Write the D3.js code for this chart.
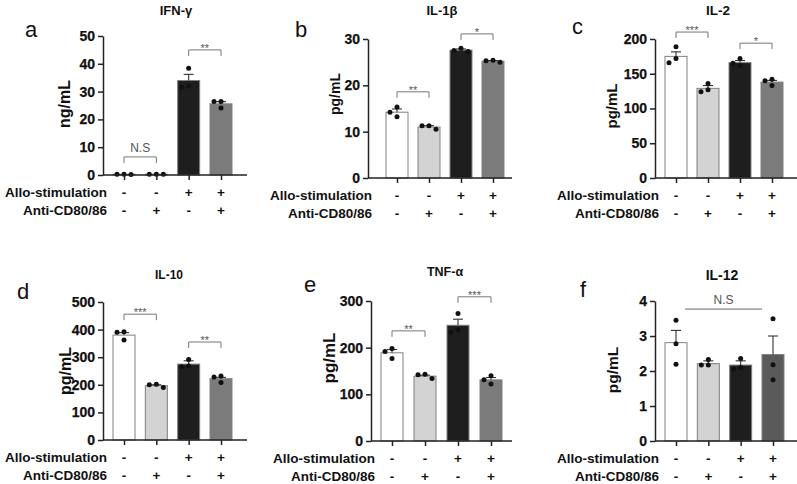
<!DOCTYPE html>
<html>
<head>
<meta charset="utf-8">
<script src="https://cdn.jsdelivr.net/npm/d3@7"></script>
<style>
  body { margin: 0; background: #fff; }
  text { font-family: "Liberation Sans", Arial, sans-serif; }
</style>
</head>
<body>
<div id="chart"></div>
<script>
// groups and the +/- rows under each bar
var groups = ["g1", "g2", "g3", "g4"];
var alloRow = ["-", "-", "+", "+"];
var antiRow = ["-", "+", "-", "+"];

// IFN-γ (ng/mL)
var ifnMean = [0.3, 0.3, 34, 25.6];
var ifnSem = [0, 0, 2.2, 0.8];
var ifnDots = [[0.2, 0.3, 0.3], [0.3, 0.3, 0.3], [38.4, 32, 31.6], [26.4, 26.4, 24.1]];
var ifnTicks = [0, 10, 20, 30, 40, 50];
var ifnMarks = [{ from: 0, to: 1, y: 6.5, text: "N.S" }, { from: 2, to: 3, y: 45, text: "**" }];

// IL-1β (pg/mL)
var il1Mean = [14.2, 11, 27.6, 25.2];
var il1Sem = [0.7, 0.3, 0.25, 0.15];
var il1Dots = [[15.3, 14.2, 13.2], [11.3, 11.3, 10.5], [28, 27.5, 27.3], [25.4, 25.3, 25.0]];
var il1Ticks = [0, 10, 20, 30];
var il1Marks = [{ from: 0, to: 1, y: 18.6, text: "**" }, { from: 2, to: 3, y: 31.1, text: "*" }];

// IL-2 (pg/mL)
var il2Mean = [175, 129, 166, 138];
var il2Sem = [6.5, 4, 3, 2.4];
var il2Dots = [[189, 172, 166], [136, 127, 124], [172, 165, 162], [142, 140, 133]];
var il2Ticks = [0, 50, 100, 150, 200];
var il2Marks = [{ from: 0, to: 1, y: 210, text: "***" }, { from: 2, to: 3, y: 194, text: "*" }];

// IL-10 (pg/mL)
var il10Mean = [380, 197, 275, 222];
var il10Sem = [9, 3, 12, 5];
var il10Dots = [[392, 390, 362], [202, 200, 190], [292, 268, 265], [232, 228, 208]];
var il10Ticks = [0, 100, 200, 300, 400, 500];
var il10Marks = [{ from: 0, to: 1, y: 456, text: "***" }, { from: 2, to: 3, y: 355, text: "**" }];

// TNF-α (pg/mL)
var tnfMean = [189, 139, 248, 131];
var tnfSem = [7, 2, 13, 5];
var tnfDots = [[198, 192, 177], [143, 142, 134], [273, 238, 233], [140, 131, 122]];
var tnfTicks = [0, 100, 200, 300];
var tnfMarks = [{ from: 0, to: 1, y: 236, text: "**" }, { from: 2, to: 3, y: 309, text: "***" }];

// IL-12 (pg/mL)
var il12Mean = [2.81, 2.21, 2.17, 2.47];
var il12Sem = [0.35, 0.08, 0.12, 0.53];
var il12Dots = [[3.45, 2.78, 2.19], [2.33, 2.17, 2.17], [2.36, 2.1, 2.05], [3.49, 2.18, 1.75]];
var il12Ticks = [0, 1, 2, 3, 4];
var il12Marks = [{ from: 0, to: 3, y: 3.77, text: "N.S", line: true }];

var fills = ["#ffffff", "#d3d3d3", "#1e1e1e", "#7b7b7b"];

var panels = [
  { letter: "a", title: "IFN-γ", unit: "ng/mL", mean: ifnMean, sem: ifnSem, dots: ifnDots, ticks: ifnTicks, marks: ifnMarks,
    ax: 103, x1: 124, x2: 221, xEnd: 247, y0: 175, yTop: 36, unitX: 64, unitY: 104, unitSize: 16,
    titleX: 176, titleY: 15, titleSize: 13, letterX: 25, letterY: 37 },
  { letter: "b", title: "IL-1β", unit: "pg/mL", mean: il1Mean, sem: il1Sem, dots: il1Dots, ticks: il1Ticks, marks: il1Marks,
    ax: 368, x1: 397, x2: 493, xEnd: 512, y0: 178, yTop: 39, unitX: 335, unitY: 94, unitSize: 14,
    titleX: 442, titleY: 15, titleSize: 13, letterX: 295, letterY: 37 },
  { letter: "c", title: "IL-2", unit: "pg/mL", mean: il2Mean, sem: il2Sem, dots: il2Dots, ticks: il2Ticks, marks: il2Marks,
    ax: 655, x1: 676, x2: 772, xEnd: 797, y0: 178, yTop: 39, unitX: 611, unitY: 106, unitSize: 15,
    titleX: 718, titleY: 15, titleSize: 13.5, letterX: 572, letterY: 34 },
  { letter: "d", title: "IL-10", unit: "pg/mL", mean: il10Mean, sem: il10Sem, dots: il10Dots, ticks: il10Ticks, marks: il10Marks,
    ax: 103, x1: 124, x2: 221, xEnd: 247, y0: 440, yTop: 302, unitX: 65, unitY: 371, unitSize: 16,
    titleX: 169, titleY: 279, titleSize: 12, letterX: 17, letterY: 299 },
  { letter: "e", title: "TNF-α", unit: "pg/mL", mean: tnfMean, sem: tnfSem, dots: tnfDots, ticks: tnfTicks, marks: tnfMarks,
    ax: 371, x1: 392, x2: 491, xEnd: 512, y0: 441, yTop: 301, unitX: 329, unitY: 358, unitSize: 17,
    titleX: 445, titleY: 276, titleSize: 12.5, letterX: 304, letterY: 292 },
  { letter: "f", title: "IL-12", unit: "pg/mL", mean: il12Mean, sem: il12Sem, dots: il12Dots, ticks: il12Ticks, marks: il12Marks,
    ax: 655, x1: 676, x2: 773, xEnd: 797, y0: 441, yTop: 301, unitX: 612, unitY: 370, unitSize: 15.5,
    titleX: 722, titleY: 280, titleSize: 14, letterX: 580, letterY: 297,
    lastFill: "#5a5a5a" }
];

var svgWidth = 797;
var svgHeight = 484;
var barWidth = 22;
var dotR = 2.5;

var svg = d3.select("#chart")
  .append("svg")
  .attr("width", svgWidth)
  .attr("height", svgHeight);

svg.append("rect")
  .attr("width", svgWidth)
  .attr("height", svgHeight)
  .attr("fill", "#fff");

// place dots like a simple beeswarm: centre first, then step sideways if they overlap
function swarm(values, y, cx) {
  var placed = [];
  var steps = [0, -7, 7, -14, 14];
  values.slice().sort(d3.descending).forEach(function(v) {
    var py = y(v);
    for (var i = 0; i < steps.length; i++) {
      var px = cx + steps[i];
      var hit = placed.some(function(p) { return Math.hypot(p.x - px, p.y - py) < dotR * 2 + 0.5; });
      if (!hit || i == steps.length - 1) { placed.push({ x: px, y: py }); break; }
    }
  });
  return placed;
}

panels.forEach(function(p) {
  var g = svg.append("g");

  var x = d3.scalePoint().domain(groups).range([p.x1, p.x2]);
  var y = d3.scaleLinear()
    .domain([0, p.ticks[p.ticks.length - 1]])
    .range([p.y0, p.yTop]);

  // bars
  g.selectAll("rect.bar")
    .data(p.mean)
    .enter()
    .append("rect")
    .attr("class", "bar")
    .attr("x", (d, i) => x(groups[i]) - barWidth / 2)
    .attr("width", barWidth)
    .attr("y", d => y(d))
    .attr("height", d => p.y0 - y(d))
    .attr("fill", (d, i) => (i == 3 && p.lastFill) ? p.lastFill : fills[i])
    .attr("stroke", "#808080")
    .attr("stroke-width", 1);

  // error bars, upward only
  p.mean.forEach(function(m, i) {
    if (!p.sem[i]) return;
    var cx = x(groups[i]);
    var top = y(m + p.sem[i]);
    g.append("line")
      .attr("x1", cx).attr("x2", cx)
      .attr("y1", y(m)).attr("y2", top)
      .attr("stroke", "#333").attr("stroke-width", 1.1);
    g.append("line")
      .attr("x1", cx - 5).attr("x2", cx + 5)
      .attr("y1", top).attr("y2", top)
      .attr("stroke", "#333").attr("stroke-width", 1.1);
  });

  // individual points
  p.dots.forEach(function(vals, i) {
    g.selectAll(null)
      .data(swarm(vals, y, x(groups[i])))
      .enter()
      .append("circle")
      .attr("cx", d => d.x)
      .attr("cy", d => d.y)
      .attr("r", dotR)
      .attr("fill", "#111");
  });

  // y axis
  var yAxis = g.append("g")
    .attr("transform", `translate(${p.ax}, 0)`)
    .call(d3.axisLeft(y).tickValues(p.ticks).tickFormat(d3.format("d"))
      .tickSize(5).tickSizeOuter(0).tickPadding(3));
  yAxis.attr("font-family", null).attr("font-size", null);
  yAxis.selectAll("text")
    .style("font-size", "14px")
    .style("font-weight", "700")
    .attr("fill", "#111")
    .attr("stroke", "#111")
    .attr("stroke-width", 0.25);
  yAxis.selectAll("line, path").attr("stroke", "#222").attr("stroke-width", 1.5);

  // x axis line and ticks
  g.append("line")
    .attr("x1", p.ax).attr("x2", p.xEnd)
    .attr("y1", p.y0).attr("y2", p.y0)
    .attr("stroke", "#222").attr("stroke-width", 1.5);
  var xAxis = g.append("g")
    .attr("transform", `translate(0, ${p.y0})`)
    .call(d3.axisBottom(x).tickSize(5).tickFormat(""));
  xAxis.select(".domain").remove();
  xAxis.selectAll("line").attr("stroke", "#222").attr("stroke-width", 1.5);

  // +/- rows
  [alloRow, antiRow].forEach(function(row, r) {
    var ty = p.y0 + 22 + r * 18;
    g.append("text")
      .attr("x", p.ax + 4)
      .attr("y", ty)
      .attr("text-anchor", "end")
      .style("font-size", "13.5px")
      .style("font-weight", "bold")
      .attr("fill", "#111")
      .text(r == 0 ? "Allo-stimulation" : "Anti-CD80/86");
    g.selectAll(null)
      .data(row)
      .enter()
      .append("text")
      .attr("x", (d, i) => x(groups[i]))
      .attr("y", ty)
      .attr("text-anchor", "middle")
      .style("font-size", "13.5px")
      .style("font-weight", "bold")
      .attr("fill", "#111")
      .text(d => d);
  });

  // significance brackets
  p.marks.forEach(function(m) {
    var by = y(m.y);
    var xa = x(groups[m.from]);
    var xb = x(groups[m.to]);
    if (m.line) {
      xa += 9; xb -= 11;
      g.append("line")
        .attr("x1", xa).attr("x2", xb).attr("y1", by).attr("y2", by)
        .attr("stroke", "#666").attr("stroke-width", 1);
    } else {
      g.append("path")
        .attr("d", `M${xa},${by + 6}V${by}H${xb}V${by + 6}`)
        .attr("fill", "none")
        .attr("stroke", "#777")
        .attr("stroke-width", 1);
    }
    var ns = m.text == "N.S";
    g.append("text")
      .attr("x", (xa + xb) / 2)
      .attr("y", ns ? by - 5 : by + 2)
      .attr("text-anchor", "middle")
      .style("font-size", ns ? "12px" : "11px")
      .attr("fill", "#555")
      .text(m.text);
  });

  // y label
  g.append("text")
    .attr("transform", `translate(${p.unitX}, ${p.unitY}) rotate(-90)`)
    .attr("text-anchor", "middle")
    .attr("dominant-baseline", "central")
    .style("font-size", p.unitSize + "px")
    .style("font-weight", "bold")
    .attr("fill", "#111")
    .text(p.unit);

  // title
  g.append("text")
    .attr("x", p.titleX)
    .attr("y", p.titleY)
    .attr("text-anchor", "middle")
    .style("font-size", p.titleSize + "px")
    .style("font-weight", "bold")
    .attr("fill", "#111")
    .text(p.title);

  // panel letter
  g.append("text")
    .attr("x", p.letterX)
    .attr("y", p.letterY)
    .style("font-size", "22px")
    .attr("fill", "#111")
    .text(p.letter);
});
</script>
</body>
</html>
